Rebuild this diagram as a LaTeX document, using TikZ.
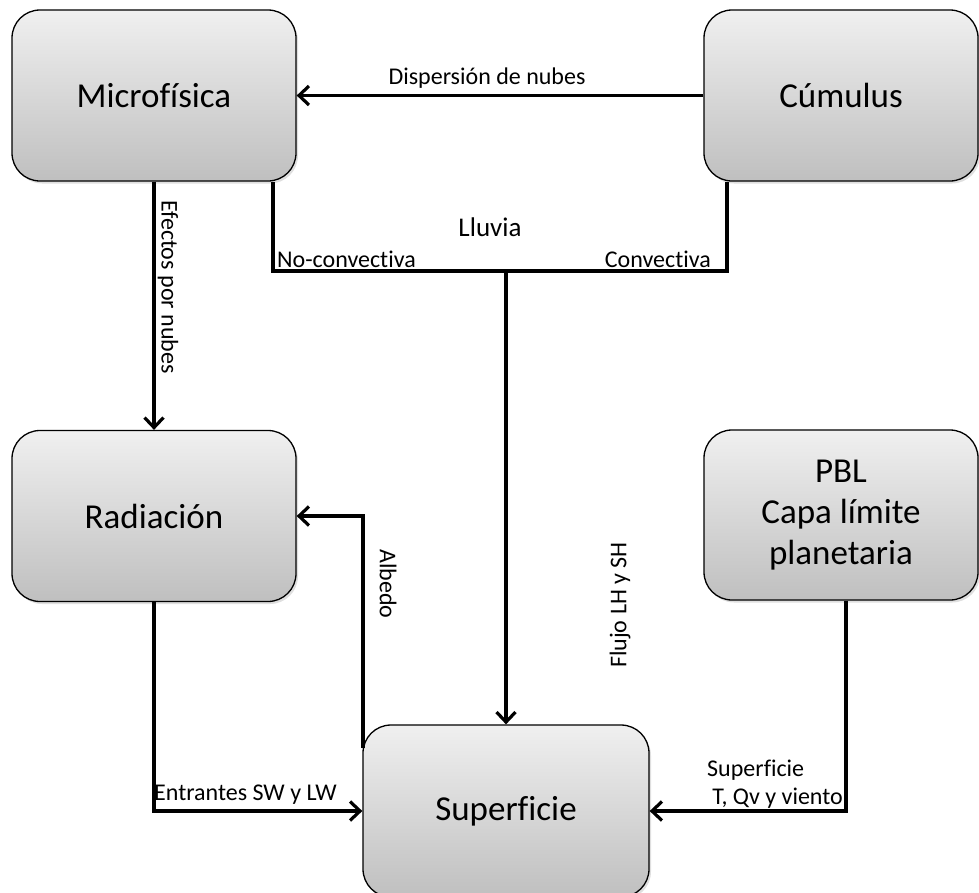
\documentclass[tikz,border=0pt]{standalone}
\usepackage{fontspec}
\setmainfont{Carlito}[Ligatures=NoCommon]
\usetikzlibrary{arrows.meta,shadows}
\tikzset{
  box/.style={draw=black, line width=1.3pt, rounded corners=28pt,
    top color=gray!12, bottom color=gray!50,
    drop shadow={opacity=0.25, shadow xshift=2pt, shadow yshift=-2.5pt},
    minimum height=171pt, align=center, inner sep=0pt,
    font=\fontsize{35}{41}\selectfont},
  conn/.style={line width=3.6pt, draw=black},
  arr/.style={conn, -{Straight Barb[length=10pt,width=19pt,line width=3.2pt]}},
  lab/.style={inner sep=0pt, font=\fontsize{24}{28}\selectfont},
}
\begin{document}
\begin{tikzpicture}[x=1pt,y=-1pt]
\useasboundingbox (0,0) rectangle (979,892);
\node[box, minimum width=284pt] (mic) at (154,95.5) {Microfísica};
\node[box, minimum width=274pt] (cum) at (841,95.5) {Cúmulus};
\node[box, minimum width=284pt] (rad) at (154,516) {Radiación};
\node[box, minimum width=274pt, minimum height=170pt] (pbl) at (841,515) {PBL\\Capa límite\\planetaria};
\node[box, minimum width=286pt, minimum height=172pt] (sup) at (506,811) {Superficie};

% Dispersion
\draw[arr] (cum.west) -- (mic.east);
\node[lab] (tdisp) at (487,78) {Dispersión de nubes};

% Efectos
\draw[arr] (mic.south) -- (rad.north);
\node[lab, rotate=-90] (tefe) at (168,287) {Efectos por nubes};

% Lluvia
\coordinate (lL) at (273,271);
\coordinate (lR) at (727,271);
\draw[conn] (mic.south -| lL) -- (lL) -- (lR) -- (cum.south -| lR);
\coordinate (lM) at (sup.north |- lL);
\draw[arr] (lM) -- (sup.north);
\node[lab, font=\fontsize{27}{31}\selectfont] (tllu) at (490,227) {Lluvia};
\node[lab, anchor=west] (tnoc) at (277,259) {No-convectiva};
\node[lab, anchor=east] (tcon) at (711,259) {Convectiva};

% Radiacion -> Superficie
\draw[arr] (rad.south) |- (sup.west);
\node[lab, anchor=west] (tent) at (154,795) {Entrantes SW y LW};

% Albedo
\coordinate (albs) at (363,748);
\draw[arr] (albs) |- (rad.east);
\node[lab, rotate=-90] (talb) at (388,584) {Albedo};

% Flujo
\node[lab, rotate=90] (tflu) at (620,605) {Flujo LH y SH};

% PBL -> Superficie
\draw[arr] ([xshift=5pt]pbl.south) |- (sup.east);
\node[lab, anchor=west] (tsup) at (707,770) {Superficie};
\node[lab, anchor=east] (ttqv) at (843,798) {T, Qv y viento};
\end{tikzpicture}
\end{document}
